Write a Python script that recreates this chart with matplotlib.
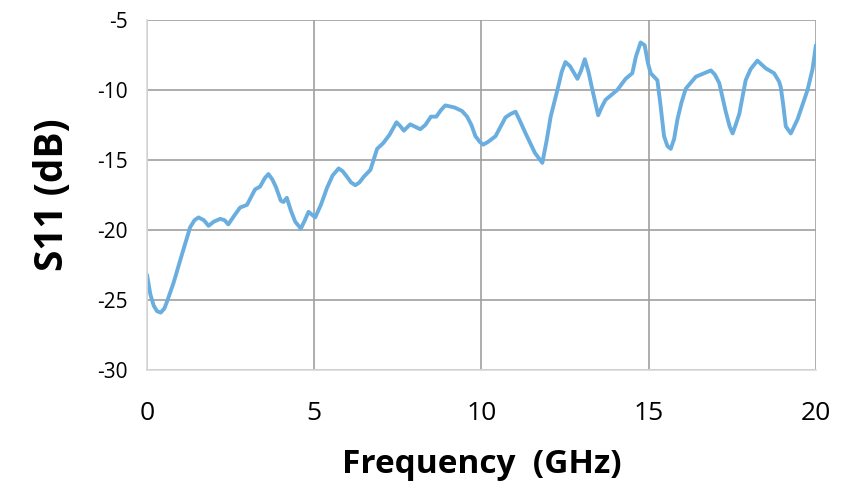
import matplotlib.pyplot as plt

# S11 trace
freq_ghz = [0.0, 0.1, 0.2, 0.3, 0.41, 0.52, 0.6, 0.79, 1.05, 1.29, 1.42, 1.54, 1.7, 1.84,
            2.0, 2.19, 2.32, 2.43, 2.6, 2.78, 2.99, 3.23, 3.38, 3.52, 3.63, 3.75, 3.85,
            4.0, 4.08, 4.18, 4.3, 4.43, 4.6, 4.72, 4.83, 5.03, 5.2, 5.38, 5.55, 5.73,
            5.85, 5.98, 6.1, 6.23, 6.35, 6.48, 6.68, 6.88, 7.06, 7.25, 7.46, 7.58,
            7.68, 7.87, 8.0, 8.17, 8.32, 8.49, 8.65, 8.8, 8.92, 9.2, 9.42, 9.57, 9.7,
            9.82, 9.95, 10.05, 10.2, 10.42, 10.72, 10.88, 11.02, 11.15, 11.32, 11.6,
            11.82, 11.95, 12.07, 12.27, 12.4, 12.51, 12.65, 12.87, 12.98, 13.09, 13.2,
            13.3, 13.49, 13.6, 13.71, 14.06, 14.31, 14.51, 14.62, 14.76, 14.88, 14.98,
            15.06, 15.26, 15.35, 15.46, 15.56, 15.66, 15.76, 15.86, 15.98, 16.11,
            16.41, 16.66, 16.86, 16.98, 17.11, 17.3, 17.42, 17.51, 17.6, 17.71, 17.9,
            18.05, 18.25, 18.5, 18.75, 18.9, 18.95, 19.02, 19.1, 19.25, 19.45, 19.75,
            19.9, 20.0]
s11_db = [-23.2, -24.6, -25.4, -25.8, -25.9, -25.6, -25.1, -23.8, -21.7, -19.8, -19.3,
          -19.1, -19.3, -19.7, -19.4, -19.2, -19.3, -19.6, -19.0, -18.4, -18.2, -17.1,
          -16.9, -16.3, -16.0, -16.4, -16.9, -17.9, -18.0, -17.7, -18.6, -19.4, -19.9,
          -19.3, -18.7, -19.1, -18.2, -17.0, -16.1, -15.6, -15.8, -16.2, -16.6, -16.8,
          -16.6, -16.2, -15.7, -14.2, -13.8, -13.2, -12.3, -12.6, -12.9, -12.45,
          -12.6, -12.8, -12.5, -11.9, -11.9, -11.4, -11.1, -11.25, -11.5, -11.9,
          -12.5, -13.3, -13.7, -13.9, -13.7, -13.3, -11.95, -11.7, -11.55, -12.2,
          -13.1, -14.5, -15.2, -13.6, -11.9, -10.0, -8.7, -8.0, -8.3, -9.2, -8.6,
          -7.8, -8.7, -9.8, -11.8, -11.2, -10.7, -10.0, -9.2, -8.8, -7.6, -6.6, -6.8,
          -8.1, -8.8, -9.3, -11.0, -13.3, -14.0, -14.2, -13.5, -12.1, -10.9, -9.9,
          -9.05, -8.8, -8.6, -8.9, -9.5, -11.5, -12.6, -13.1, -12.5, -11.7, -9.3,
          -8.5, -7.9, -8.45, -8.8, -9.4, -9.8, -11.0, -12.6, -13.1, -12.1, -10.0,
          -8.5, -6.8]

x_ticks = [0, 5, 10, 15, 20]
y_ticks = [-30, -25, -20, -15, -10, -5]

plt.rcParams['font.family'] = ['Open Sans', 'DejaVu Sans']
plt.rcParams['axes.unicode_minus'] = False

fig = plt.figure(figsize=(8.42, 4.91), dpi=100)
ax = fig.add_axes([0.1746, 0.2464, 0.7944, 0.7128])

ax.plot(freq_ghz, s11_db, color='#6aaee0', linewidth=2.8,
        solid_joinstyle='round', solid_capstyle='round')

ax.set_xlim(0, 20)
ax.set_ylim(-30, -5)
ax.set_xticks(x_ticks)
ax.set_yticks(y_ticks)
ax.grid(True, color='#a0a0a0', linewidth=1.2)
ax.set_axisbelow(True)

for side in ['top', 'right']:
    ax.spines[side].set_visible(False)
for side in ['left', 'bottom']:
    ax.spines[side].set_color('#d9d9d9')
    ax.spines[side].set_linewidth(1.2)

ax.tick_params(axis='both', length=0)
ax.tick_params(axis='x', labelsize=19, pad=22)
ax.tick_params(axis='y', labelsize=15, pad=14)

ax.set_xlabel('Frequency  (GHz)', fontsize=24, fontweight='bold', labelpad=16)
ax.set_ylabel('S11 (dB)', fontsize=28, fontweight='bold', labelpad=18)

fig.savefig('out.png', dpi=100)
